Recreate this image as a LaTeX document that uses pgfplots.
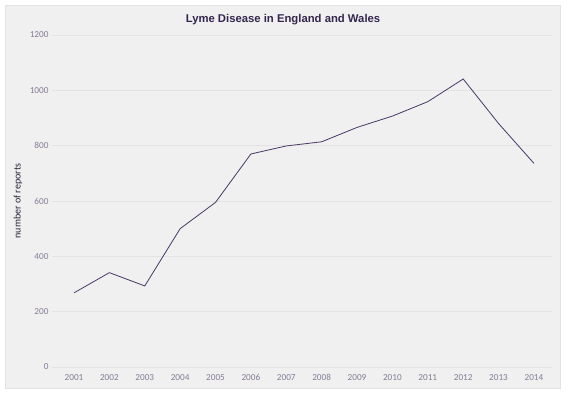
\documentclass[border=0pt]{standalone}
\usepackage{pgfplots}
\pgfplotsset{compat=1.18}
\usepackage{fontspec}
\setmainfont{Carlito}
\newfontfamily\titlefont{Liberation Sans}
\definecolor{panel}{HTML}{F0F0F0}
\definecolor{panelborder}{HTML}{E2E2E2}
\definecolor{gridc}{HTML}{E3E3E3}
\definecolor{tickc}{HTML}{857C96}
\definecolor{titlec}{HTML}{35264F}
\definecolor{linec}{HTML}{483866}
\definecolor{labelc}{HTML}{2A2138}
\begin{document}
\begin{tikzpicture}
\path[use as bounding box, fill=white] (0,0) rectangle (570bp,397bp);
\filldraw[fill=panel, draw=panelborder, line width=0.6bp] (5bp,9bp) rectangle (560bp,392bp);
\node[font=\titlefont\bfseries\fontsize{11.3bp}{13bp}\selectfont, text=titlec] at (283bp,377bp) {Lyme Disease in England and Wales};
\node[rotate=90, font=\fontsize{10bp}{12bp}\selectfont, text=labelc] at (18bp,196bp) {number of reports};
\begin{axis}[
  at={(52bp,30bp)}, anchor=south west,
  scale only axis, width=500bp, height=332bp,
  xmin=2000.378, xmax=2014.51, ymin=0, ymax=1200,
  axis line style={draw=none},
  major tick length=0pt,
  xtick={2001,...,2014},
  ytick={0,200,...,1200},
  ymajorgrids, grid style={color=gridc, line width=0.6bp},
  /pgf/number format/assume math mode=true,
  /pgf/number format/1000 sep={},
  x tick label style={font=\fontsize{9.2bp}{11bp}\selectfont, text=tickc, yshift=-4bp},
  y tick label style={font=\fontsize{9.2bp}{11bp}\selectfont, text=tickc},
  clip=false,
]
\addplot[color=linec, line width=0.8bp, mark=none] coordinates {
(2001,268) (2002,341) (2003,293) (2004,500) (2005,595) (2006,770) (2007,799)
(2008,814) (2009,866) (2010,907) (2011,959) (2012,1041) (2013,880) (2014,736)
};
\end{axis}
\end{tikzpicture}
\end{document}
